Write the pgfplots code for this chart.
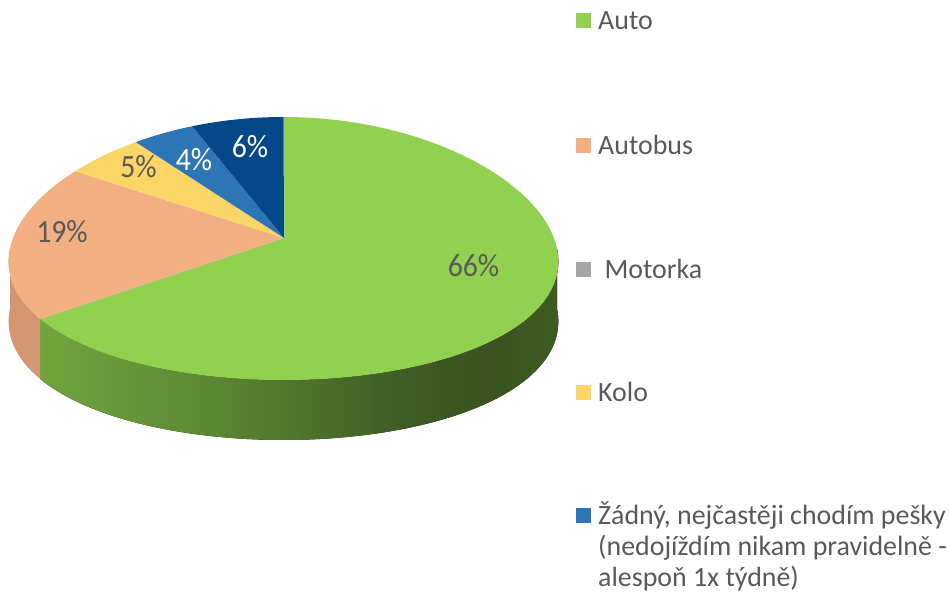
\documentclass[border=0pt]{standalone}
\usepackage{fontspec}
\setmainfont{Carlito}
\usepackage{pgfplots}
\usepackage{pgfplotstable}
\pgfplotsset{compat=1.18}
\usepgfplotslibrary{fillbetween}
\definecolor{cAuto}{HTML}{92D050}
\definecolor{cBus}{HTML}{F2AF81}
\definecolor{cBusSide}{HTML}{D29770}
\definecolor{cMoto}{HTML}{A5A5A5}
\definecolor{cKolo}{HTML}{FBD667}
\definecolor{cZad}{HTML}{2E75B6}
\definecolor{cJine}{HTML}{04488A}
\definecolor{txt}{HTML}{595959}
\definecolor{gA}{HTML}{71A43D}
\definecolor{gB}{HTML}{5F8B33}
\definecolor{gC}{HTML}{3E5D23}
\definecolor{gD}{HTML}{39521F}
\definecolor{gE}{HTML}{3F5C22}
\pgfdeclarehorizontalshading{greenside}{100bp}{color(0bp)=(gA); color(25bp)=(gA); color(40bp)=(gB); color(60bp)=(gC); color(68bp)=(gD); color(75bp)=(gE); color(100bp)=(gE)}

\pgfplotstableread{
label value
Auto 66
Autobus 19
Motorka 0
Kolo 5
Zadny 4
Jine 6
}\piedata

\pgfplotstablegetelem{0}{value}\of\piedata \let\vA\pgfplotsretval
\pgfplotstablegetelem{1}{value}\of\piedata \let\vB\pgfplotsretval
\pgfplotstablegetelem{2}{value}\of\piedata \let\vC\pgfplotsretval
\pgfplotstablegetelem{3}{value}\of\piedata \let\vD\pgfplotsretval
\pgfplotstablegetelem{4}{value}\of\piedata \let\vE\pgfplotsretval
\pgfplotstablegetelem{5}{value}\of\piedata \let\vF\pgfplotsretval
\pgfmathsetmacro\aA{90-3.6*\vA}
\pgfmathsetmacro\aB{\aA-3.6*\vB}
\pgfmathsetmacro\aC{\aB-3.6*\vC}
\pgfmathsetmacro\aD{\aC-3.6*\vD}
\pgfmathsetmacro\aE{\aD-3.6*\vE}
\pgfmathsetmacro\aF{\aE-3.6*\vF}
\def\pcx{283.5}\def\pcy{248.5}\def\prx{273.5}\def\pry{131.5}
\def\persp{0.1}\def\pieh{60}
\def\apx{284}\def\apy{238}

\begin{document}
\begin{tikzpicture}
\begin{axis}[at={(0,0)}, anchor=south west, scale only axis,
  width=949bp, height=597bp, xmin=0, xmax=949, ymin=0, ymax=597,
  y dir=reverse, hide axis, clip=false, samples=80]
% sides
\addplot[name path=gt, draw=none, domain=\aA:0] ({\pcx+\prx*cos(x)*(1-\persp*sin(x))},{\pcy-\pry*sin(x)});
\addplot[name path=gb, draw=none, domain=\aA:0] ({\pcx+\prx*cos(x)*(1-\persp*sin(x))},{\pcy-\pry*sin(x)+\pieh});
\addplot[shade, shading=greenside, draw=none] fill between[of=gt and gb];
\addplot[name path=bt, draw=none, domain=-180:\aA] ({\pcx+\prx*cos(x)*(1-\persp*sin(x))},{\pcy-\pry*sin(x)});
\addplot[name path=bb, draw=none, domain=-180:\aA] ({\pcx+\prx*cos(x)*(1-\persp*sin(x))},{\pcy-\pry*sin(x)+\pieh});
\addplot[fill=cBusSide, draw=none] fill between[of=bt and bb];
% top wedges
\addplot[fill=cAuto, draw=none, domain=\aA:90] ({\pcx+\prx*cos(x)*(1-\persp*sin(x))},{\pcy-\pry*sin(x)}) -- (axis cs:\apx,\apy) -- cycle;
\addplot[fill=cBus, draw=none, domain=\aB:\aA] ({\pcx+\prx*cos(x)*(1-\persp*sin(x))},{\pcy-\pry*sin(x)}) -- (axis cs:\apx,\apy) -- cycle;
\addplot[fill=cKolo, draw=none, domain=\aD:\aC] ({\pcx+\prx*cos(x)*(1-\persp*sin(x))},{\pcy-\pry*sin(x)}) -- (axis cs:\apx,\apy) -- cycle;
\addplot[fill=cZad, draw=none, domain=\aE:\aD] ({\pcx+\prx*cos(x)*(1-\persp*sin(x))},{\pcy-\pry*sin(x)}) -- (axis cs:\apx,\apy) -- cycle;
\addplot[fill=cJine, draw=none, domain=\aF:\aE] ({\pcx+\prx*cos(x)*(1-\persp*sin(x))},{\pcy-\pry*sin(x)}) -- (axis cs:\apx,\apy) -- cycle;
% data labels
\begin{scope}[every node/.style={font=\fontsize{32.5}{38}\selectfont, inner sep=0pt, anchor=base, xscale=0.92}]
\node[text=txt] at (axis cs:473.5,277) {66\%};
\node[text=txt] at (axis cs:62,243) {19\%};
\node[text=txt] at (axis cs:138.5,178) {5\%};
\node[text=white] at (axis cs:194,171) {4\%};
\node[text=white] at (axis cs:250,158) {6\%};
\end{scope}
% legend
\fill[cAuto] (axis cs:576,13.5) rectangle (axis cs:591,28.5);
\fill[cBus] (axis cs:576,138.5) rectangle (axis cs:591,153.5);
\fill[cMoto] (axis cs:576,262.5) rectangle (axis cs:591,277.5);
\fill[cKolo] (axis cs:576,385.5) rectangle (axis cs:591,400.5);
\fill[cZad] (axis cs:576,508.5) rectangle (axis cs:591,523.5);
\begin{scope}[every node/.style={font=\fontsize{28}{30}\selectfont, text=txt, inner sep=0pt, anchor=base west}]
\node at (axis cs:598,30) {Auto};
\node at (axis cs:598,155) {Autobus};
\node at (axis cs:598,279) {\ Motorka};
\node at (axis cs:598,402) {Kolo};
\node at (axis cs:598,525) {Žádný, nejčastěji chodím pešky};
\node at (axis cs:598,555.5) {(nedojíždím nikam pravidelně -};
\node at (axis cs:598,586) {alespoň 1x týdně)};
\end{scope}
\end{axis}
\pgfresetboundingbox
\useasboundingbox (0,0) rectangle (949bp,597bp);
\end{tikzpicture}
\end{document}
